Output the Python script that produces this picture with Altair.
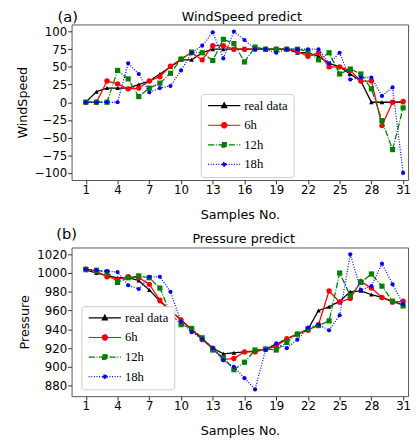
import altair as alt
import pandas as pd

samples = list(range(1, 32))
series_names = ["real data", "6h", "12h", "18h"]

ws_real = [0, 15, 20, 20, 20, 25, 30, 40, 50, 60, 60, 70, 75, 75, 75, 75, 75, 75, 75, 75, 70, 70, 65, 55, 50, 40, 30, 0, 0, 0, 0]
ws_6h = [0, 0, 30, 26, 19, 20, 30, 36, 51, 61, 70, 60, 80, 80, 75, 75, 75, 75, 75, 75, 72, 65, 70, 50, 50, 45, 30, 30, -33, 0, 1]
ws_12h = [0, 0, 0, 45, 33, 8, 20, 27, 41, 61, 71, 70, 59, 89, 83, 57, 78, 75, 75, 75, 75, 72, 60, 70, 40, 47, 40, 19, -26, -67, -8]
ws_18h = [0, 0, 0, 0, 55, 40, 14, 20, 23, 45, 70, 80, 99, 62, 100, 88, 75, 75, 70, 75, 75, 75, 75, 55, 70, 32, 35, 35, 9, 21, -100]

p_real = [1003, 1000, 997, 995, 995, 992, 982, 970, 960, 950, 940, 930, 920, 914, 915, 916, 917, 919, 924, 930, 935, 940, 960, 964, 970, 980, 981, 977, 974, 970, 966]
p_6h = [1004, 1002, 996, 993, 996, 995, 988, 971, 960, 950, 940, 929, 920, 908, 909, 916, 916, 919, 922, 930, 935, 939, 945, 981, 969, 973, 991, 984, 974, 969, 970]
p_12h = [1004, 1003, 1001, 990, 995, 997, 995, 984, 957, 945, 941, 931, 918, 910, 897, 905, 918, 919, 918, 926, 935, 940, 944, 949, 1000, 976, 990, 999, 986, 970, 965]
p_18h = [1004, 1003, 1002, 1001, 987, 983, 996, 996, 980, 948, 937, 930, 920, 907, 900, 888, 876, 918, 925, 920, 929, 942, 945, 939, 955, 1020, 982, 986, 1010, 988, 967]

x_ticks = list(range(1, 32, 3))
ws_ticks = list(range(-100, 101, 25))
p_ticks = list(range(880, 1021, 20))

colors = ["#000000", "#ff0000", "#008000", "#0000ff"]
dashes = [[1, 0], [1, 0], [6.4, 1.6, 1, 1.6], [1, 1.65]]
shapes = ["triangle-up", "circle", "square", "circle"]
sizes = [22, 30, 28, 18]

legend_paths = [
    "M-6.375,0H1.875M-2.25,-0.75L-1.6,0.5H-2.9Z",
    "M-6.375,0H1.875M-1.575,0A0.675,0.675,0,1,1,-2.925,0A0.675,0.675,0,1,1,-1.575,0Z",
    "M-6.375,0H1.875M-2.825,-0.575H-1.675V0.575H-2.825Z",
    "M-6.375,0H1.875M-1.75,0A0.5,0.5,0,1,1,-2.75,0A0.5,0.5,0,1,1,-1.75,0Z",
]

PLOT_W = 344


def long_df(vals):
    rows = []
    for name, v in zip(series_names, vals):
        for xi, yi in zip(samples, v):
            rows.append({"x": xi, "value": yi, "series": name})
    return pd.DataFrame(rows)


def panel(df, ytitle, title, ydomain, yticks, lx, ly, tag, tx, ty, titx, tity, height):
    xenc = alt.X("x:Q", scale=alt.Scale(domain=[-0.35, 31.47], nice=False, zero=False),
                 axis=alt.Axis(values=x_ticks, title="Samples No.", labelFlush=False, format="d"))
    yenc = alt.Y("value:Q", scale=alt.Scale(domain=ydomain, nice=False, zero=False),
                 axis=alt.Axis(values=yticks, title=ytitle, labelFlush=False, format="d"))
    layers = []
    for i, s in enumerate(series_names):
        base = alt.Chart(df).transform_filter(alt.datum.series == s)
        layers.append(base.mark_line(strokeWidth=1.3, color=colors[i], strokeDash=dashes[i]).encode(
            x=xenc, y=yenc))
        layers.append(base.mark_point(filled=True, shape=shapes[i], size=sizes[i], opacity=1,
                                      color=colors[i]).encode(x=xenc, y=yenc))
    keys = [f"{tag}|{s}" for s in series_names]
    leg = alt.Legend(title=None, orient="none", legendX=lx, legendY=ly,
                     fillColor="white", strokeColor="#cccccc", cornerRadius=3,
                     padding=5.5, rowPadding=6, labelFont="Liberation Serif",
                     labelFontSize=13, labelColor="black", symbolSize=64,
                     symbolStrokeWidth=1.2, labelOffset=5, symbolOffset=21,
                     labelExpr="split(datum.label, '|')[1]")
    legend_layer = alt.Chart(df).transform_calculate(
        key="'" + tag + "|' + datum.series"
    ).transform_filter("false").mark_point(filled=True, opacity=1).encode(
        x=xenc, y=yenc,
        fill=alt.Fill("key:N", scale=alt.Scale(domain=keys, range=colors), legend=leg),
        stroke=alt.Stroke("key:N", scale=alt.Scale(domain=keys, range=colors), legend=leg),
        shape=alt.Shape("key:N", scale=alt.Scale(domain=keys, range=legend_paths), legend=leg),
        strokeDash=alt.StrokeDash("key:N", scale=alt.Scale(domain=keys, range=dashes), legend=leg),
    )
    text_df = pd.DataFrame({"t": [tag, title], "kind": ["tag", "title"]})
    tag_layer = alt.Chart(text_df).transform_filter(alt.datum.kind == "tag").mark_text(
        fontSize=15, font="DejaVu Sans", align="center", baseline="middle", color="black"
    ).encode(x=alt.value(tx), y=alt.value(ty), text="t:N")
    title_layer = alt.Chart(text_df).transform_filter(alt.datum.kind == "title").mark_text(
        fontSize=13, font="DejaVu Sans", align="center", baseline="middle", color="black"
    ).encode(x=alt.value(titx), y=alt.value(tity), text="t:N")
    layers += [legend_layer, tag_layer, title_layer]
    return alt.layer(*layers).properties(width=PLOT_W, height=height)


top = panel(long_df([ws_real, ws_6h, ws_12h, ws_18h]), "WindSpeed", "WindSpeed predict",
            [-110, 110], ws_ticks, 132, 71, "(a)", -4, -8, 174, -8, 159)
bottom = panel(long_df([p_real, p_6h, p_12h, p_18h]), "Pressure", "Pressure predict",
               [868.8, 1027.2], p_ticks, 10, 60, "(b)", -5, -14, 176, -9, 152)

chart = alt.vconcat(top, bottom, spacing=4).resolve_scale(
    fill="independent", stroke="independent", shape="independent", strokeDash="independent"
).resolve_legend(
    fill="independent", stroke="independent", shape="independent", strokeDash="independent"
).properties(
    padding={"left": 8, "top": -4, "right": 0, "bottom": 0}
).configure_view(stroke="#555555", strokeWidth=1).configure_axis(
    domain=False, grid=False, tickColor="#333333", tickSize=4, labelPadding=1,
    labelFont="DejaVu Sans", labelFontSize=12, labelColor="black",
    titleFont="DejaVu Sans", titleFontSize=13, titleFontWeight="normal", titleColor="black",
).configure_axisY(titlePadding=5).configure_axisX(titlePadding=13)

chart.save("out.html", embed_options={"renderer": "svg", "actions": False})
